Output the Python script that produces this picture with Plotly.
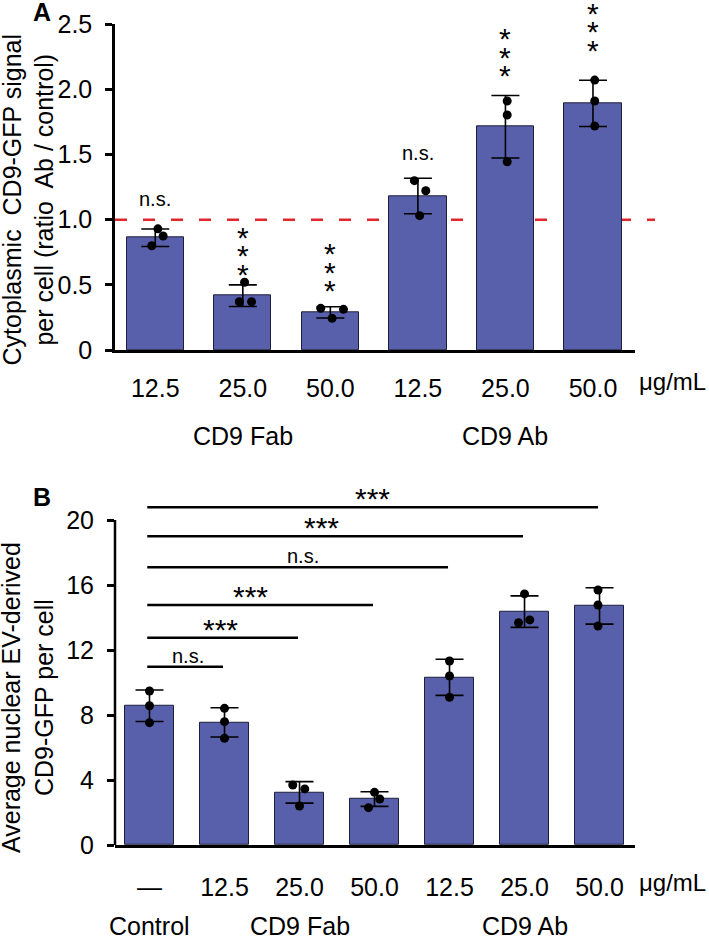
import plotly.graph_objects as go

W, H = 709, 941

# ── Panel A: cytoplasmic CD9-GFP ratio ───────────────────
a_ticks = ["12.5", "25.0", "50.0", "12.5", "25.0", "50.0"]
a_mean = [0.862, 0.417, 0.289, 1.182, 1.714, 1.893]
a_sd = [0.067, 0.083, 0.043, 0.136, 0.240, 0.177]
a_pts = [[0.80, 0.93, 0.875], [0.52, 0.37, 0.37], [0.32, 0.312, 0.243],
         [1.30, 1.222, 1.031], [1.911, 1.804, 1.445], [2.072, 1.911, 1.719]]
a_jit = [[-0.04, 0.03, 0.09], [0.02, -0.04, 0.10], [-0.11, 0.15, 0.02],
         [-0.04, 0.09, 0.02], [0.02, 0.02, 0.02], [0.02, 0.02, 0.02]]
a_sig = ["n.s.", "***", "***", "n.s.", "***", "***"]
a_sig_y = [1.16, 0.637, 0.507, 1.51, 2.157, 2.356]
a_groups = ["CD9 Fab", "CD9 Ab"]
a_group_x = [1, 4]

# ── Panel B: nuclear EV-derived CD9-GFP ──────────────────
b_ticks = ["\u2014", "12.5", "25.0", "50.0", "12.5", "25.0", "50.0"]
b_mean = [8.57, 7.55, 3.24, 2.83, 10.32, 14.36, 14.71]
b_sd = [0.97, 0.90, 0.66, 0.45, 1.11, 0.97, 1.12]
b_pts = [[9.48, 8.57, 7.53], [8.41, 7.59, 6.57], [3.69, 3.45, 2.40],
         [3.24, 2.83, 2.30], [11.32, 10.40, 9.09], [15.45, 13.85, 13.68],
         [15.69, 14.77, 13.48]]
b_jit = [[0, 0, 0], [0, 0, 0], [-0.09, 0.07, 0], [0, 0.07, -0.08],
         [0, 0, 0], [0, 0.07, -0.08], [-0.02, -0.02, -0.02]]
cmp_to = [1, 2, 3, 4, 5, 6]
cmp_y = [10.97, 12.76, 14.77, 17.09, 19.0, 20.78]
cmp_lab = ["n.s.", "***", "***", "n.s.", "***", "***"]
cmp_lab_x = [0.51, 0.94, 1.34, 2.05, 2.29, 2.97]
b_groups = ["Control", "CD9 Fab", "CD9 Ab"]
b_group_x = [0, 2, 5]

BAR = "#5960AB"
EDGE = "#1e1e3a"
FONT = "Liberation Sans, Arial, sans-serif"
LW = 2.5


def px_x(p):
    return p / W


def px_y(p):
    return 1 - p / H


def note(**kw):
    # centred text, no arrow
    d = dict(showarrow=False, xanchor="center", yanchor="middle")
    d.update(kw)
    return d


fig = go.Figure()

# bars + SD
for xa, ya, mean, sd in [("x", "y", a_mean, a_sd), ("x2", "y2", b_mean, b_sd)]:
    fig.add_trace(go.Bar(
        x=list(range(len(mean))), y=mean, width=0.655,
        marker=dict(color=BAR, line=dict(color=EDGE, width=1)),
        error_y=dict(type="data", array=sd, color="black", thickness=1.6, width=14),
        xaxis=xa, yaxis=ya, showlegend=False, hoverinfo="skip",
    ))

# replicate dots
for xa, ya, pts, jit in [("x", "y", a_pts, a_jit), ("x2", "y2", b_pts, b_jit)]:
    xs, ys = [], []
    for i, (p, j) in enumerate(zip(pts, jit)):
        xs += [i + d for d in j]
        ys += p
    fig.add_trace(go.Scatter(
        x=xs, y=ys, mode="markers",
        marker=dict(color="black", size=9),
        xaxis=xa, yaxis=ya, showlegend=False, hoverinfo="skip",
    ))

shapes = []
ann = []

# red reference line at ratio 1.0
shapes.append(dict(type="line", xref="x domain", yref="y", x0=0, x1=1.0385,
                   y0=1, y1=1, layer="below",
                   line=dict(color="#e3262b", width=2.5, dash="12px,16px")))

# manual y axis line for B (range is padded above 20)
shapes.append(dict(type="line", xref="x2 domain", yref="y2", x0=0, x1=0,
                   y0=0, y1=20, line=dict(color="black", width=LW)))

# significance marks, panel A
for i, (lab, y) in enumerate(zip(a_sig, a_sig_y)):
    if lab == "n.s.":
        ann.append(note(x=i, y=y, xref="x", yref="y", text="n.s.",
                        font=dict(size=20)))
    else:
        for k in range(3):
            ann.append(note(x=i, y=y, xref="x", yref="y", text="*",
                            yshift=18.5 * k - 7, font=dict(size=30)))

# comparison brackets, panel B
for to, y, lab, lx in zip(cmp_to, cmp_y, cmp_lab, cmp_lab_x):
    shapes.append(dict(type="line", xref="x2", yref="y2", x0=-0.03, x1=to - 0.02,
                       y0=y, y1=y, line=dict(color="black", width=LW)))
    ns = lab == "n.s."
    ann.append(note(x=lx, y=y, xref="x2", yref="y2", text=lab,
                    yanchor="bottom", yshift=-2 if ns else -10,
                    font=dict(size=20 if ns else 30)))

# group labels
for g, gx in zip(a_groups, a_group_x):
    ann.append(note(x=gx, y=px_y(436), xref="x", yref="paper", text=g,
                    font=dict(size=25)))
for g, gx in zip(b_groups, b_group_x):
    ann.append(note(x=gx, y=px_y(926), xref="x2", yref="paper", text=g,
                    font=dict(size=25)))

# unit labels
for yy in (382, 882):
    ann.append(note(x=px_x(672), y=px_y(yy), xref="paper", yref="paper",
                    text="\u03bcg/mL", font=dict(size=24)))

# axis titles
ann.append(note(x=px_x(27.5), y=px_y(200), xref="paper", yref="paper",
                text="Cytoplasmic\u00a0 CD9-GFP signal<br>per cell (ratio\u00a0 Ab / control)",
                textangle=-90, font=dict(size=25)))
ann.append(note(x=px_x(27), y=px_y(698), xref="paper", yref="paper",
                text="Average nuclear EV-derived<br>CD9-GFP per cell",
                textangle=-90, font=dict(size=25)))

# panel letters
for letter, yy in (("A", 12), ("B", 497)):
    ann.append(note(x=px_x(42), y=px_y(yy), xref="paper", yref="paper",
                    text="<b>" + letter + "</b>", font=dict(size=25)))

xdom = [px_x(115), px_x(635)]
# x tick marks are invisible; their length only pushes the labels down
base_x = dict(showline=True, linewidth=LW, linecolor="black", ticks="outside",
              tickcolor="rgba(0,0,0,0)", showgrid=False, zeroline=False,
              tickfont=dict(size=25), fixedrange=True, automargin=False)
base_y = dict(linewidth=LW, linecolor="black", ticks="outside", ticklen=7,
              tickwidth=LW, tickcolor="black", showgrid=False, zeroline=False,
              tickfont=dict(size=25), fixedrange=True, automargin=False)

fig.update_layout(
    width=W, height=H, margin=dict(l=0, r=0, t=0, b=0, autoexpand=False),
    paper_bgcolor="white", plot_bgcolor="white",
    font=dict(family=FONT, color="black"),
    bargap=0,
    xaxis=dict(domain=xdom, range=[-0.46, 5.48], tickvals=list(range(6)),
               ticktext=a_ticks, anchor="y", ticklen=14, **base_x),
    yaxis=dict(domain=[px_y(350), px_y(24.3)], range=[0, 2.5],
               tickvals=[0, 0.5, 1, 1.5, 2, 2.5],
               ticktext=["0", "0.5", "1.0", "1.5", "2.0", "2.5"],
               showline=True, anchor="x", ticklabelstandoff=8, **base_y),
    xaxis2=dict(domain=xdom, range=[-0.46, 6.473], tickvals=list(range(7)),
                ticktext=b_ticks, anchor="y2", ticklen=18, **base_x),
    yaxis2=dict(domain=[px_y(845), px_y(503.75)], range=[0, 21],
                tickvals=[0, 4, 8, 12, 16, 20], showline=False, anchor="x2",
                ticklabelstandoff=8, **base_y),
    shapes=shapes, annotations=ann,
)

fig.write_html("out.html", config={"displayModeBar": False},
               post_script="document.body.style.margin='0';")
